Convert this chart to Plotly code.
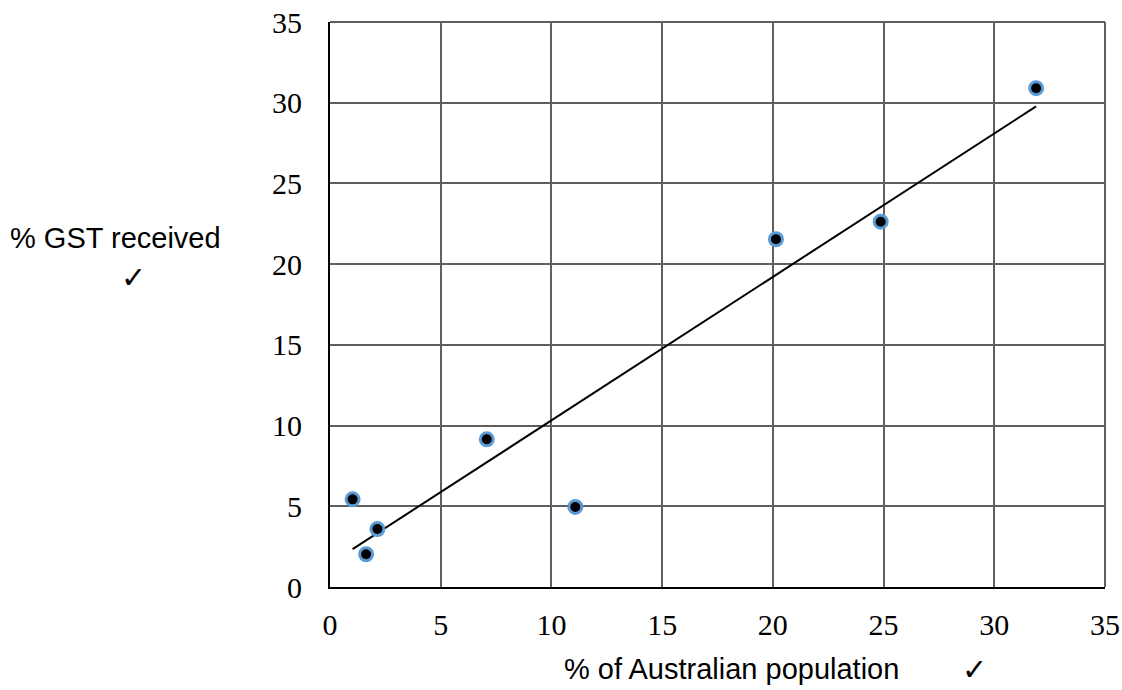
import numpy as np
import plotly.graph_objects as go

# Data
pop_share = [1.02, 1.63, 2.14, 7.08, 11.08, 20.14, 24.87, 31.89]
gst_share = [5.43, 2.03, 3.59, 9.15, 4.96, 21.54, 22.63, 30.90]
tick_vals = [0, 5, 10, 15, 20, 25, 30, 35]

# Linear trendline
slope, intercept = np.polyfit(pop_share, gst_share, 1)
tx = [min(pop_share), max(pop_share)]
ty = [slope * v + intercept for v in tx]

fig = go.Figure()
fig.add_trace(go.Scatter(x=tx, y=ty, mode="lines",
                         line=dict(color="black", width=2), showlegend=False,
                         hoverinfo="skip"))
fig.add_trace(go.Scatter(x=pop_share, y=gst_share, mode="markers",
                         marker=dict(color="black", size=13,
                                     line=dict(color="#5B9BD5", width=3)),
                         showlegend=False))

W, H = 1122, 690
L, R, T, B = 330, 17, 22, 103
pw, ph = W - L - R, H - T - B

def px(xp):
    return (xp - L) / pw

def py(yp):
    return (H - B - yp) / ph

grid = "#5f5f5f"
fig.update_layout(
    width=W, height=H,
    margin=dict(l=L, r=R, t=T, b=B, autoexpand=False),
    plot_bgcolor="white", paper_bgcolor="white",
    xaxis=dict(range=[0, 35], tickvals=tick_vals, showgrid=True,
               gridcolor=grid, gridwidth=2, zeroline=False,
               showline=True, linecolor="black", linewidth=2,
               ticks="outside", ticklen=10, tickcolor="rgba(0,0,0,0)",
               ticklabeloverflow="allow",
               tickfont=dict(family="Liberation Serif", size=30, color="black"),
               mirror=False, fixedrange=True),
    yaxis=dict(range=[0, 35], tickvals=tick_vals, showgrid=True,
               gridcolor=grid, gridwidth=2, zeroline=False,
               showline=True, linecolor="black", linewidth=2,
               ticks="outside", ticklen=20, tickcolor="rgba(0,0,0,0)",
               ticklabeloverflow="allow",
               tickfont=dict(family="Liberation Serif", size=30, color="black"),
               fixedrange=True),
    shapes=[
        dict(type="line", xref="paper", yref="paper", x0=0, x1=1, y0=1, y1=1,
             line=dict(color=grid, width=2)),
        dict(type="line", xref="paper", yref="paper", x0=1, x1=1, y0=0, y1=1,
             line=dict(color=grid, width=2)),
    ],
    annotations=[
        dict(text="% GST received", xref="paper", yref="paper",
             x=px(115.5), y=py(238), xanchor="center", yanchor="middle",
             showarrow=False,
             font=dict(family="Liberation Sans", size=29, color="black")),
        dict(text="✓", xref="paper", yref="paper",
             x=px(133), y=py(277), xanchor="center", yanchor="middle",
             showarrow=False,
             font=dict(family="DejaVu Sans", size=30, color="black")),
        dict(text="% of Australian population", xref="paper", yref="paper",
             x=px(731.5), y=py(669), xanchor="center", yanchor="middle",
             showarrow=False,
             font=dict(family="Liberation Sans", size=29, color="black")),
        dict(text="✓", xref="paper", yref="paper",
             x=px(974), y=py(669), xanchor="center", yanchor="middle",
             showarrow=False,
             font=dict(family="DejaVu Sans", size=30, color="black")),
    ],
)

fig.write_html("out.html",
               config={"displayModeBar": False},
               post_script="document.body.style.margin='0';"
                           "document.body.style.overflow='hidden';")
